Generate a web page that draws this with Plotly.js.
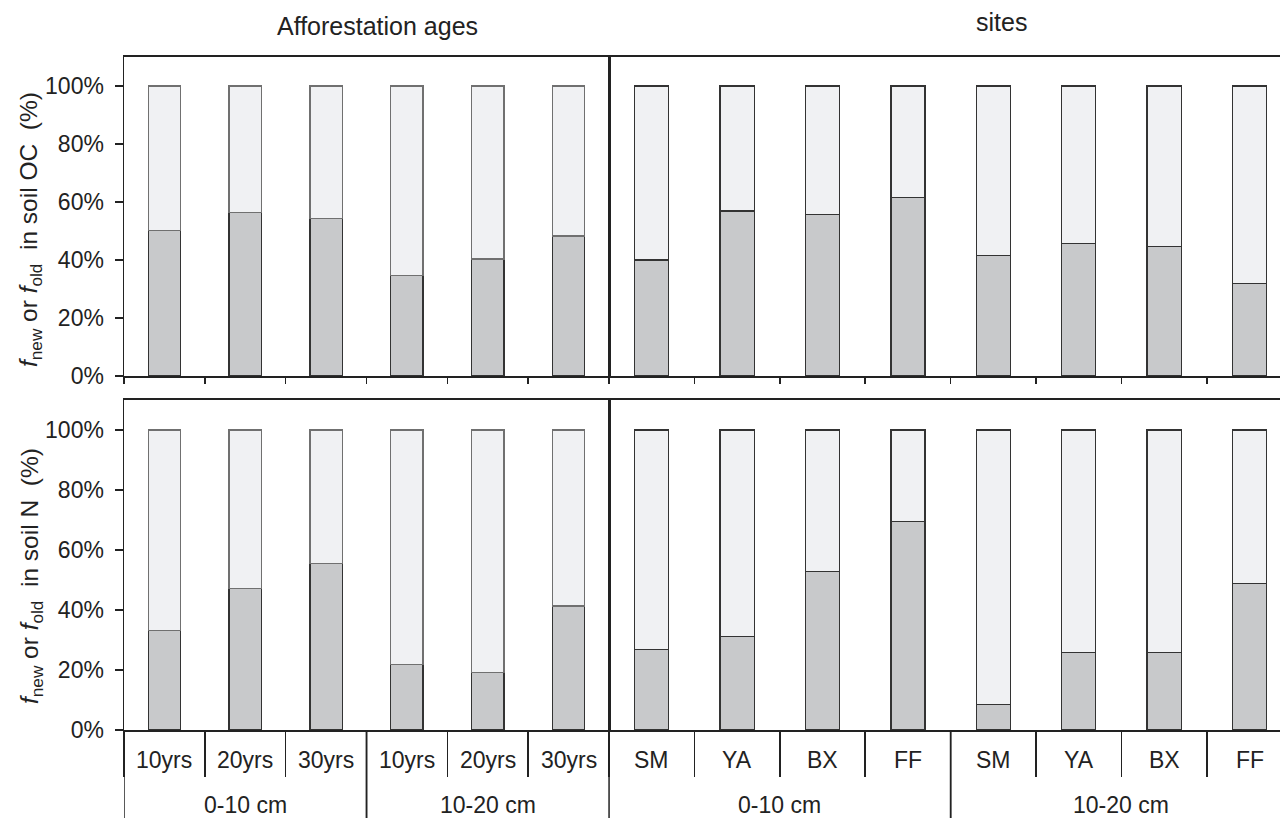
<!DOCTYPE html>
<html>
<head>
<meta charset="utf-8">
<script src="https://cdn.plot.ly/plotly-3.0.1.min.js"></script>
<style>
  html, body { margin: 0; padding: 0; background: #fff; }
  #chart { width: 1280px; height: 818px; }
</style>
</head>
<body>
<div id="chart"></div>
<script>
// Soil depth groups and categories
const ageDepths  = ["0-10 cm", "0-10 cm", "0-10 cm", "10-20 cm", "10-20 cm", "10-20 cm"];
const ageLabels  = ["10yrs", "20yrs", "30yrs", "10yrs", "20yrs", "30yrs"];
const siteDepths = ["0-10 cm", "0-10 cm", "0-10 cm", "0-10 cm", "10-20 cm", "10-20 cm", "10-20 cm", "10-20 cm"];
const siteLabels = ["SM", "YA", "BX", "FF", "SM", "YA", "BX", "FF"];
const yTicks     = [0, 20, 40, 60, 80, 100];
const yTickText  = ["0%", "20%", "40%", "60%", "80%", "100%"];

// Fractions (%) of new and old carbon in soil OC
const ocAgeNew  = [50.1, 56.4, 54.4, 34.7, 40.3, 48.3];
const ocAgeOld  = [49.9, 43.6, 45.6, 65.3, 59.7, 51.7];
const ocSiteNew = [40.0, 56.9, 55.7, 61.5, 41.5, 45.8, 44.6, 32.0];
const ocSiteOld = [60.0, 43.1, 44.3, 38.5, 58.5, 54.2, 55.4, 68.0];

// Fractions (%) of new and old nitrogen in soil N
const nAgeNew  = [33.2, 47.2, 55.4, 21.8, 19.1, 41.3];
const nAgeOld  = [66.8, 52.8, 44.6, 78.2, 80.9, 58.7];
const nSiteNew = [26.8, 31.2, 52.9, 69.5, 8.4, 25.8, 25.8, 48.8];
const nSiteOld = [73.2, 68.8, 47.1, 30.5, 91.6, 74.2, 74.2, 51.2];

const FONT = "Liberation Sans, Arial, Helvetica, sans-serif";
const INK = "#222";
const NEW_FILL = "#c8c9cb";
const OLD_FILL = "#f0f1f3";
const PLOT_W = 1280 - 124;
const PLOT_H = 818 - 57 - 88;

function pair(xGroups, xCats, newVals, oldVals, xa, ya, oldEdge) {
  const x = [xGroups, xCats];
  return [
    {
      type: "bar", name: "f_new", x: x, y: newVals, xaxis: xa, yaxis: ya,
      marker: { color: NEW_FILL, line: { color: "#333", width: 1.3 } },
      hoverinfo: "y", showlegend: false
    },
    {
      type: "bar", name: "f_old", x: x, y: oldVals, xaxis: xa, yaxis: ya,
      marker: { color: OLD_FILL, line: { color: oldEdge, width: 1.3 } },
      hoverinfo: "y", showlegend: false
    }
  ];
}

const data = [].concat(
  pair(ageDepths, ageLabels, ocAgeNew, ocAgeOld, "x", "y", "#707070"),
  pair(siteDepths, siteLabels, ocSiteNew, ocSiteOld, "x2", "y2", "#333"),
  pair(ageDepths, ageLabels, nAgeNew, nAgeOld, "x3", "y3", "#707070"),
  pair(siteDepths, siteLabels, nSiteNew, nSiteOld, "x4", "y4", "#333")
);

const splitX = 0.4196;
const topDom = [0.526, 1];
const botDom = [0, 0.4903];
const ageRange = [-0.5, 5.5];
const siteRange = [-0.5, 7.357];

function catX(domain, range, anchor, ticklen) {
  return {
    type: "multicategory", domain: domain, range: range, anchor: anchor,
    showline: true, linecolor: INK, linewidth: 2, mirror: true,
    ticks: "outside", ticklen: ticklen, tickwidth: 1.5, tickcolor: INK,
    tickson: "boundaries", showticklabels: false, showdividers: false,
    showgrid: false, zeroline: false, fixedrange: true, automargin: false
  };
}

function leftY(domain, anchor) {
  return {
    domain: domain, anchor: anchor, range: [0, 110],
    tickmode: "array", tickvals: yTicks, ticktext: yTickText,
    ticks: "outside", ticklen: 8, tickwidth: 1.5, tickcolor: INK,
    ticklabelstandoff: 6,
    tickfont: { family: FONT, size: 23, color: INK },
    showline: true, linecolor: INK, linewidth: 1.5, mirror: true,
    showgrid: false, zeroline: false, fixedrange: true, automargin: false
  };
}

function rightY(domain, anchor) {
  return {
    domain: domain, anchor: anchor, range: [0, 110],
    showticklabels: false, ticks: "",
    showline: true, linecolor: INK, linewidth: 1.5, mirror: false,
    showgrid: false, zeroline: false, fixedrange: true
  };
}

// Category labels, depth labels and depth dividers below the lower panels
const annotations = [];
const shapes = [];
function addBottomLabels(xref, groups, cats) {
  cats.forEach((c, i) => {
    annotations.push({
      text: c, xref: xref, yref: "paper", x: i, y: 0, yshift: -30,
      showarrow: false, xanchor: "center", yanchor: "middle",
      font: { family: FONT, size: 23, color: INK }
    });
  });
  const seen = [];
  groups.forEach(g => { if (!seen.includes(g)) seen.push(g); });
  seen.forEach(g => {
    const idx = groups.map((v, i) => (v === g ? i : -1)).filter(i => i >= 0);
    const first = idx[0], last = idx[idx.length - 1];
    annotations.push({
      text: g, xref: xref, yref: "paper", x: (first + last) / 2, y: 0, yshift: -75,
      showarrow: false, xanchor: "center", yanchor: "middle",
      font: { family: FONT, size: 23, color: INK }
    });
    [first - 0.5, last + 0.5].forEach(b => {
      shapes.push({
        type: "line", xref: xref, yref: "paper", x0: b, x1: b, y0: 0, y1: -88 / PLOT_H,
        line: { color: INK, width: 1.5 }
      });
    });
  });
}
addBottomLabels("x3", ageDepths, ageLabels);
addBottomLabels("x4", siteDepths, siteLabels);

// Rotated y titles for the two rows of panels
const SP = "\u00a0";
const ocTitle = "<i>f</i><sub>new</sub> or <i>f</i><sub>old</sub>" + SP + SP + "in soil OC" + SP + SP + "(%)";
const nTitle  = "<i>f</i><sub>new</sub> or <i>f</i><sub>old</sub>" + SP + SP + "in soil N" + SP + SP + "(%)";
const titleX = -(124 - 31) / PLOT_W;

annotations.push(
  { text: ocTitle, xref: "paper", yref: "paper", x: titleX, y: (730 - 230) / PLOT_H,
    textangle: -90, showarrow: false, xanchor: "center", yanchor: "middle",
    font: { family: FONT, size: 24.5, color: INK } },
  { text: nTitle, xref: "paper", yref: "paper", x: titleX, y: (730 - 576) / PLOT_H,
    textangle: -90, showarrow: false, xanchor: "center", yanchor: "middle",
    font: { family: FONT, size: 24.5, color: INK } },
  { text: "Afforestation ages", xref: "paper", yref: "paper", x: 0.219, y: 1, yshift: 31,
    showarrow: false, xanchor: "center", yanchor: "middle",
    font: { family: FONT, size: 25, color: INK } },
  { text: "sites", xref: "paper", yref: "paper", x: 0.759, y: 1, yshift: 35,
    showarrow: false, xanchor: "center", yanchor: "middle",
    font: { family: FONT, size: 25, color: INK } }
);

const layout = {
  width: 1280, height: 818,
  margin: { l: 124, r: 0, t: 57, b: 88 },
  paper_bgcolor: "#fff", plot_bgcolor: "#fff",
  barmode: "stack", bargap: 0.6,
  font: { family: FONT, size: 23, color: INK },
  showlegend: false,
  xaxis:  catX([0, splitX], ageRange, "y", 6),
  xaxis2: catX([splitX, 1], siteRange, "y2", 6),
  xaxis3: catX([0, splitX], ageRange, "y3", 45),
  xaxis4: catX([splitX, 1], siteRange, "y4", 45),
  yaxis:  leftY(topDom, "x"),
  yaxis2: rightY(topDom, "x2"),
  yaxis3: leftY(botDom, "x3"),
  yaxis4: rightY(botDom, "x4"),
  annotations: annotations,
  shapes: shapes
};

Plotly.newPlot("chart", data, layout, { staticPlot: true, displayModeBar: false });
</script>
</body>
</html>
